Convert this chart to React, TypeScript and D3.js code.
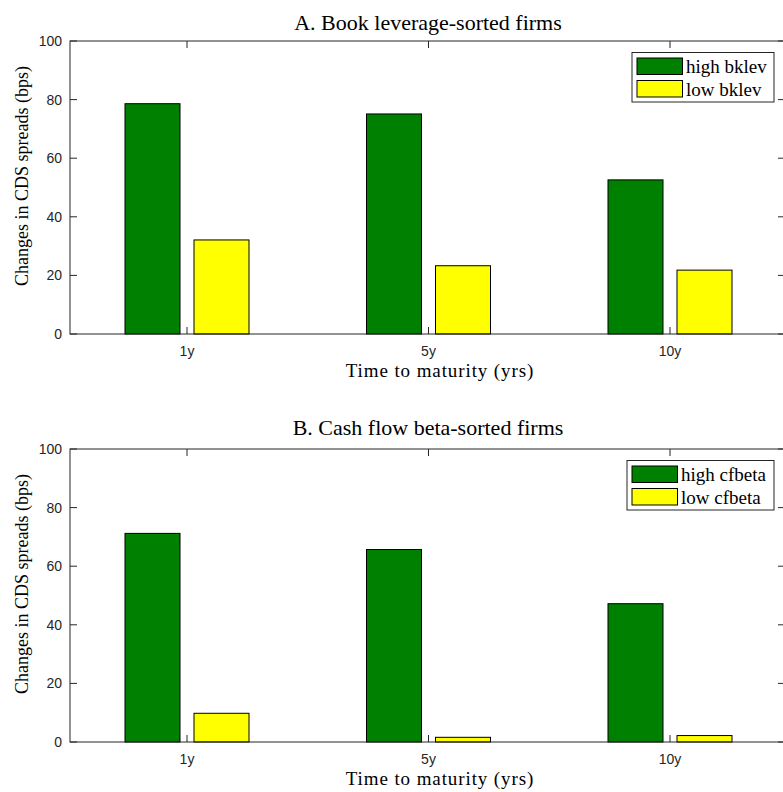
import React, { useRef, useEffect } from 'react';
import * as d3 from 'd3';

const maturities = ['1y', '5y', '10y'];
const yTicks = [0, 20, 40, 60, 80, 100];

const panelATitle = 'A. Book leverage-sorted firms';
const panelASeries = ['high bklev', 'low bklev'];
const panelAHigh = [78.6, 75.1, 52.6];
const panelALow = [32.1, 23.3, 21.8];

const panelBTitle = 'B. Cash flow beta-sorted firms';
const panelBSeries = ['high cfbeta', 'low cfbeta'];
const panelBHigh = [71.2, 65.7, 47.2];
const panelBLow = [9.8, 1.6, 2.2];

const colors = ['#008000', '#ffff00'];
const axisColor = '#262626';
const serif = '"Liberation Serif", "Times New Roman", serif';
const sans = '"Liberation Sans", Arial, sans-serif';

const W = 783;
const H = 792;

const App = () => {
  const svgRef = useRef<SVGSVGElement>(null);

  useEffect(() => {
    const svg = d3.select(svgRef.current);
    svg.selectAll('*').remove();

    const panels = [
      { title: panelATitle, series: panelASeries, values: [panelAHigh, panelALow], top: 41, titleY: 30, legendW: 142 },
      { title: panelBTitle, series: panelBSeries, values: [panelBHigh, panelBLow], top: 449, titleY: 435, legendW: 147 },
    ];

    const left = 70;
    const right = 785;
    const plotH = 293;
    const barW = 55;
    const barOffset = 34.5;

    panels.forEach((p) => {
      const bottom = p.top + plotH;
      const g = svg.append('g');

      // scales
      const x = d3.scaleLinear().domain([1, 3]).range([187, 670]);
      const y = d3.scaleLinear().domain([0, 100]).range([bottom, p.top]);

      // bars
      p.values.forEach((vals, s) => {
        g.selectAll(null)
          .data(vals)
          .enter()
          .append('rect')
          .attr('x', (d, i) => x(i + 1) + (s === 0 ? -barOffset : barOffset) - barW / 2)
          .attr('y', (d) => y(d))
          .attr('width', barW)
          .attr('height', (d) => y(0) - y(d))
          .attr('fill', colors[s])
          .attr('stroke', '#000')
          .attr('stroke-width', 1);
      });

      // box
      g.append('rect')
        .attr('x', left)
        .attr('y', p.top)
        .attr('width', right - left)
        .attr('height', plotH)
        .attr('fill', 'none')
        .attr('stroke', axisColor)
        .attr('stroke-width', 1);

      // y ticks (left and right, inward)
      yTicks.forEach((t) => {
        g.append('line')
          .attr('x1', left).attr('x2', left + 7)
          .attr('y1', y(t)).attr('y2', y(t))
          .attr('stroke', axisColor);
        g.append('line')
          .attr('x1', right - 7).attr('x2', right)
          .attr('y1', y(t)).attr('y2', y(t))
          .attr('stroke', axisColor);
        g.append('text')
          .attr('x', left - 8)
          .attr('y', y(t))
          .attr('dy', '0.35em')
          .attr('text-anchor', 'end')
          .attr('font-family', sans)
          .attr('font-size', 14)
          .attr('fill', axisColor)
          .text(t);
      });

      // x ticks (bottom and top, inward)
      maturities.forEach((m, i) => {
        g.append('line')
          .attr('x1', x(i + 1)).attr('x2', x(i + 1))
          .attr('y1', bottom).attr('y2', bottom - 7)
          .attr('stroke', axisColor);
        g.append('line')
          .attr('x1', x(i + 1)).attr('x2', x(i + 1))
          .attr('y1', p.top).attr('y2', p.top + 7)
          .attr('stroke', axisColor);
        g.append('text')
          .attr('x', x(i + 1))
          .attr('y', bottom + 22)
          .attr('text-anchor', 'middle')
          .attr('font-family', sans)
          .attr('font-size', 14)
          .attr('fill', axisColor)
          .text(m);
      });

      // title
      g.append('text')
        .attr('x', 428)
        .attr('y', p.titleY)
        .attr('text-anchor', 'middle')
        .attr('font-family', serif)
        .attr('font-size', 22)
        .attr('fill', '#000')
        .text(p.title);

      // x label
      g.append('text')
        .attr('x', 440)
        .attr('y', bottom + 43)
        .attr('text-anchor', 'middle')
        .attr('font-family', serif)
        .attr('font-size', 19)
        .attr('letter-spacing', 0.9)
        .attr('fill', '#000')
        .text('Time to maturity (yrs)');

      // y label
      g.append('text')
        .attr('transform', `translate(28,${p.top + 135}) rotate(-90)`)
        .attr('text-anchor', 'middle')
        .attr('font-family', serif)
        .attr('font-size', 18)
        .attr('fill', '#000')
        .text('Changes in CDS spreads (bps)');

      // legend
      const lx = right - 11 - p.legendW;
      const ly = p.top + 11.5;
      const lg = g.append('g').attr('transform', `translate(${lx},${ly})`);
      lg.append('rect')
        .attr('width', p.legendW)
        .attr('height', 49.5)
        .attr('fill', '#fff')
        .attr('stroke', axisColor)
        .attr('stroke-width', 1);
      p.series.forEach((name, s) => {
        lg.append('rect')
          .attr('x', 5)
          .attr('y', 5.5 + s * 22.5)
          .attr('width', 45.5)
          .attr('height', 16.5)
          .attr('fill', colors[s])
          .attr('stroke', '#000');
        lg.append('text')
          .attr('x', 54)
          .attr('y', 14 + s * 22.5)
          .attr('dy', '0.35em')
          .attr('font-family', serif)
          .attr('font-size', 19)
          .attr('fill', '#000')
          .text(name);
      });
    });
  }, []);

  return (
    <svg
      ref={svgRef}
      width={W}
      height={H}
      style={{ position: 'absolute', left: 0, top: 0, background: '#fff' }}
    />
  );
};

export default App;
